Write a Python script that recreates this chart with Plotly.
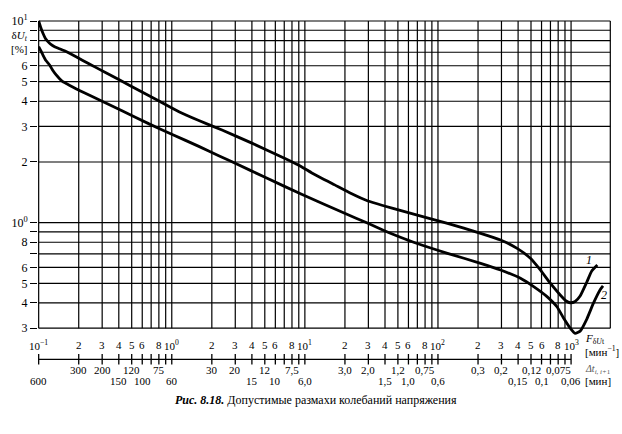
import numpy as np
import plotly.graph_objects as go

# ---------------- data ----------------
curve1_F = [0.1, 0.104, 0.1077, 0.1124, 0.1174, 0.1236, 0.1317, 0.1418, 0.1564, 0.191, 0.2405,
            0.320, 0.403, 0.569, 0.802, 1.132, 1.597, 2.385, 4.00, 7.09, 8.93, 11.2, 16.76, 22.3,
            29.8, 39.6, 52.8, 117.9, 209.2, 295.2, 393.4, 494.7, 587.5, 698.1, 828.9, 919,
            984.6, 1073, 1169.5, 1313, 1430, 1575]
curve1_dU = [10.0, 9.23, 8.69, 8.19, 7.90, 7.65, 7.46, 7.31, 7.12, 6.65, 6.12,
             5.54, 5.11, 4.52, 4.01, 3.55, 3.21, 2.88, 2.48, 2.08, 1.93, 1.77, 1.54, 1.396,
             1.281, 1.210, 1.147, 0.993, 0.886, 0.821, 0.746, 0.666, 0.583, 0.501, 0.438, 0.409,
             0.401, 0.407, 0.433, 0.508, 0.576, 0.617]

curve2_F = [0.1, 0.104, 0.1077, 0.1134, 0.1208, 0.1279, 0.1354, 0.1430, 0.1519, 0.1713, 0.2025,
            0.3024, 0.4266, 0.6753, 1.009, 1.597, 2.253, 2.998, 5.02, 9.45, 19.9, 29.8, 39.6,
            52.8, 66.4, 117.9, 209.2, 295.2, 416.6, 523.6, 659.4, 783.2, 877.5, 984.6, 1073,
            1169.5, 1313, 1470, 1650, 1738]
curve2_dU = [7.46, 7.10, 6.78, 6.37, 6.05, 5.68, 5.40, 5.19, 5.00, 4.79, 4.52,
             3.99, 3.58, 3.09, 2.74, 2.39, 2.15, 1.97, 1.68, 1.383, 1.113, 0.993, 0.913,
             0.845, 0.798, 0.705, 0.629, 0.583, 0.530, 0.482, 0.430, 0.383, 0.337, 0.3005, 0.283,
             0.290, 0.333, 0.398, 0.464, 0.486]

y_grid = [0.3, 0.4, 0.5, 0.6, 0.7, 0.8, 0.9, 1, 2, 3, 4, 5, 6, 7, 8, 9, 10]
y_label_vals = [0.3, 0.4, 0.5, 0.6, 0.8, 1, 2, 3, 4, 5, 6, 10]
y_label_text = ["3", "4", "5", "6", "8", "10<sup>0</sup>", "2", "3", "4", "5", "6",
                "10<sup>1</sup>"]
y_unlabeled = [0.7, 0.9, 7, 8, 9]

x_grid = [m * 10.0 ** d for d in range(-1, 3) for m in range(1, 10)] + [1000.0]

F_vals = [0.1, 0.2, 0.3, 0.4, 0.5, 0.6, 0.8, 1, 2, 3, 4, 5, 6, 8, 10, 20, 30, 40, 50, 60, 80,
          100, 200, 300, 400, 500, 600, 800, 1000]
F_text = ["10<sup>−1</sup>", "2", "3", "4", "5", "6", "8", "10<sup>0</sup>", "2", "3", "4", "5",
          "6", "8", "10<sup>1</sup>", "2", "3", "4", "5", "6", "8", "10<sup>2</sup>", "2", "3",
          "4", "5", "6", "8", "10<sup>3</sup>"]

dt_vals = [0.1, 0.2, 0.3, 0.4, 0.5, 0.6, 0.8, 1, 2, 3, 4, 5, 6, 8, 10, 20, 30, 40, 50, 60, 80,
           100, 200, 300, 400, 500, 600, 800, 1000]
dt_text = ["600", "300", "200", "150", "120", "100", "75", "60", "30", "20", "15", "12", "10",
           "7,5", "6,0", "3,0", "2,0", "1,5", "1,2", "1,0", "0,75", "0,6", "0,3", "0,2", "0,15",
           "0,12", "0,1", "0,075", "0,06"]
dt_row = [2, 1, 1, 2, 1, 2, 1, 2, 1, 1, 2, 1, 2, 1, 2, 1, 1, 2, 1, 2, 1, 2, 1, 1, 2, 1, 2, 1, 2]

# ---------------- layout geometry ----------------
W, H = 622, 434
ML, MR, MT, MB = 35, 11, 18, 98
PW, PH = W - ML - MR, H - MT - MB
PLOT_BOTTOM = MT + PH
X_RANGE = [-1.005, 3.30]
Y_TOP = 1 + 3 / 201.7
Y_RANGE = [Y_TOP - PH / 201.7, Y_TOP]
X_FRAME_RIGHT = 10 ** (X_RANGE[1] - 0.7 / (PW / (X_RANGE[1] - X_RANGE[0])))
Y_MIN, Y_MAX = 0.3, 10


def py(p):
    return (PLOT_BOTTOM - p) / PH


def px(p):
    return (p - ML) / PW


FONT = "Liberation Serif"
BLACK = "#000000"

fig = go.Figure()
for xs, ys in [(curve1_F, curve1_dU), (curve2_F, curve2_dU)]:
    fig.add_trace(go.Scatter(x=xs, y=ys, mode="lines",
                             line=dict(color=BLACK, width=2.8, shape="spline", smoothing=0.5),
                             showlegend=False, hoverinfo="skip"))

shapes = []
GW = 1.2
for xv in x_grid + [X_FRAME_RIGHT]:
    shapes.append(dict(type="line", xref="x", yref="y", x0=xv, x1=xv, y0=Y_MIN, y1=Y_MAX,
                       line=dict(color=BLACK, width=GW), layer="below"))
for yv in y_grid:
    shapes.append(dict(type="line", xref="x", yref="y", x0=0.1, x1=X_FRAME_RIGHT, y0=yv, y1=yv,
                       line=dict(color=BLACK, width=GW), layer="below"))
# lower frequency axis
AX_Y = py(359.3)
shapes.append(dict(type="line", xref="x", yref="paper", x0=0.1, x1=1000, y0=AX_Y, y1=AX_Y,
                   line=dict(color=BLACK, width=1.3)))
for xv in x_grid:
    shapes.append(dict(type="line", xref="x", yref="paper", x0=xv, x1=xv, y0=py(354), y1=py(364.5),
                       line=dict(color=BLACK, width=1.3)))

ann = []
for v, t in zip(F_vals, F_text):
    ann.append(dict(x=np.log10(v), xref="x", y=py(345), yref="paper", text=t, showarrow=False,
                    xanchor="center", yanchor="middle", font=dict(family=FONT, size=11, color=BLACK)))
for v, t, r in zip(dt_vals, dt_text, dt_row):
    yy = 370 if r == 1 else 381
    ann.append(dict(x=np.log10(v), xref="x", y=py(yy), yref="paper", text=t, showarrow=False,
                    xanchor="center", yanchor="middle", font=dict(family=FONT, size=11, color=BLACK)))

ann += [
    dict(x=px(583), xref="paper", y=py(339), yref="paper", xanchor="left", yanchor="middle",
         text="<i>F</i><sub>δ<i>U</i>t</sub>", showarrow=False,
         font=dict(family=FONT, size=11, color=BLACK)),
    dict(x=px(583), xref="paper", y=py(351), yref="paper", xanchor="left", yanchor="middle",
         text="[мин<sup>−1</sup>]", showarrow=False, font=dict(family=FONT, size=11, color=BLACK)),
    dict(x=px(583), xref="paper", y=py(369), yref="paper", xanchor="left", yanchor="middle",
         text="<i>Δt</i><sub><i>i, i+</i>1</sub>", showarrow=False,
         font=dict(family=FONT, size=10, color="#555555")),
    dict(x=px(583), xref="paper", y=py(381), yref="paper", xanchor="left", yanchor="middle",
         text="[мин]", showarrow=False, font=dict(family=FONT, size=11, color=BLACK)),
    dict(x=px(16), xref="paper", y=py(41.5), yref="paper", xanchor="center", yanchor="middle",
         text="δ<i>U</i><sub><i>t</i></sub><br>[%]", showarrow=False,
         font=dict(family=FONT, size=11, color=BLACK)),
    dict(x=px(314), xref="paper", y=py(400), yref="paper", xanchor="center", yanchor="middle",
         text="<b><i>Рис. 8.18.</i></b> Допустимые размахи колебаний напряжения", showarrow=False,
         font=dict(family=FONT, size=12, color=BLACK)),
    dict(x=np.log10(1365), xref="x", y=np.log10(0.653), yref="y", text="<i>1</i>", showarrow=False,
         font=dict(family=FONT, size=12, color=BLACK)),
    dict(x=np.log10(1768), xref="x", y=np.log10(0.438), yref="y", text="<i>2</i>", showarrow=False,
         font=dict(family=FONT, size=12, color=BLACK)),
]

fig.update_layout(
    width=W, height=H, autosize=False,
    margin=dict(l=ML, r=MR, t=MT, b=MB, pad=0),
    paper_bgcolor="white", plot_bgcolor="white",
    xaxis=dict(type="log", range=X_RANGE, showgrid=False, zeroline=False, showline=False,
               showticklabels=False, ticks=""),
    yaxis=dict(type="log", range=Y_RANGE, showgrid=False, zeroline=False, showline=False,
               tickmode="array", tickvals=y_label_vals, ticktext=y_label_text,
               ticks="outside", ticklen=7, tickwidth=1.2, tickcolor=BLACK,
               tickfont=dict(family=FONT, size=12, color=BLACK),
               minor=dict(tickmode="array", tickvals=y_unlabeled, ticks="outside", ticklen=7,
                          tickwidth=1.2, tickcolor=BLACK, showgrid=False)),
    shapes=shapes, annotations=ann,
)

fig.write_html("out.html", config={"displayModeBar": False},
               post_script="document.body.style.margin='0';document.body.style.padding='0';"
                           "document.body.style.overflow='hidden';")
